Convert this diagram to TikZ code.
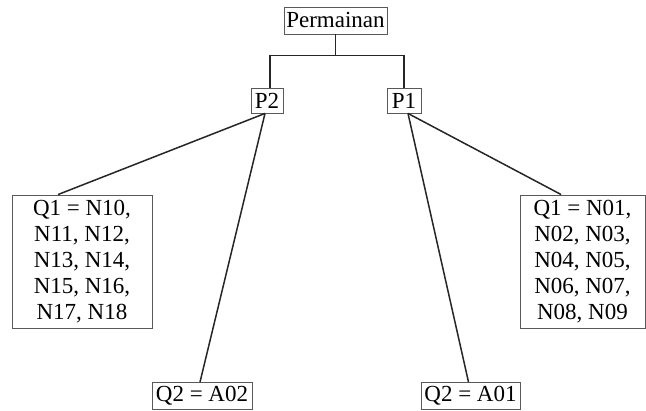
\documentclass[tikz,border=0pt]{standalone}
\usepackage{fontspec}
\setmainfont{Liberation Serif}
\usetikzlibrary{calc}
\begin{document}
\begin{tikzpicture}[x=1pt,y=-1pt,
  box/.style={draw=black!65,line width=0.9pt,inner sep=0pt,font=\fontsize{23}{26}\selectfont,align=center},
  conn/.style={draw=black!85,line width=1.5pt}]
\useasboundingbox (0,0) rectangle (646,411);
\node[box,minimum width=103pt,minimum height=27pt] (perm) at (335.5,20.5) {Permainan};
\node[box,minimum width=32pt,minimum height=25pt] (P2) at (267,100.5) {P2};
\node[box,minimum width=34pt,minimum height=25pt] (P1) at (404,100.5) {P1};
\node[box,minimum width=140pt,minimum height=133pt] (Q1L) at (82,261.5) {Q1 = N10,\\N11, N12,\\N13, N14,\\N15, N16,\\N17, N18};
\node[box,minimum width=125pt,minimum height=133pt] (Q1R) at (582.5,261.5) {Q1 = N01,\\N02, N03,\\N04, N05,\\N06, N07,\\N08, N09};
\node[box,minimum width=100pt,minimum height=27pt] (Q2L) at (202,396) {Q2 = A02};
\node[box,minimum width=99pt,minimum height=27pt] (Q2R) at (470.5,396) {Q2 = A01};
\coordinate (j) at ($(perm.south)+(0,21)$);
\draw[conn] (perm.south) -- (j);
\draw[conn] (j) -| ($(P2.north)+(3,0)$);
\draw[conn] (j) -| (P1.north);
\draw[conn] ($(P2.south)+(-2,0)$) -- ($(Q1L.north west)!0.33!(Q1L.north east)$);
\draw[conn] ($(P2.south)+(-2,0)$) -- ($(Q2L.north)+(-2,0)$);
\draw[conn] ($(P1.south)+(4,0)$) -- ($(Q1R.north west)!0.33!(Q1R.north east)$);
\draw[conn] ($(P1.south)+(4,0)$) -- ($(Q2R.north)+(-2,0)$);
\end{tikzpicture}
\end{document}
